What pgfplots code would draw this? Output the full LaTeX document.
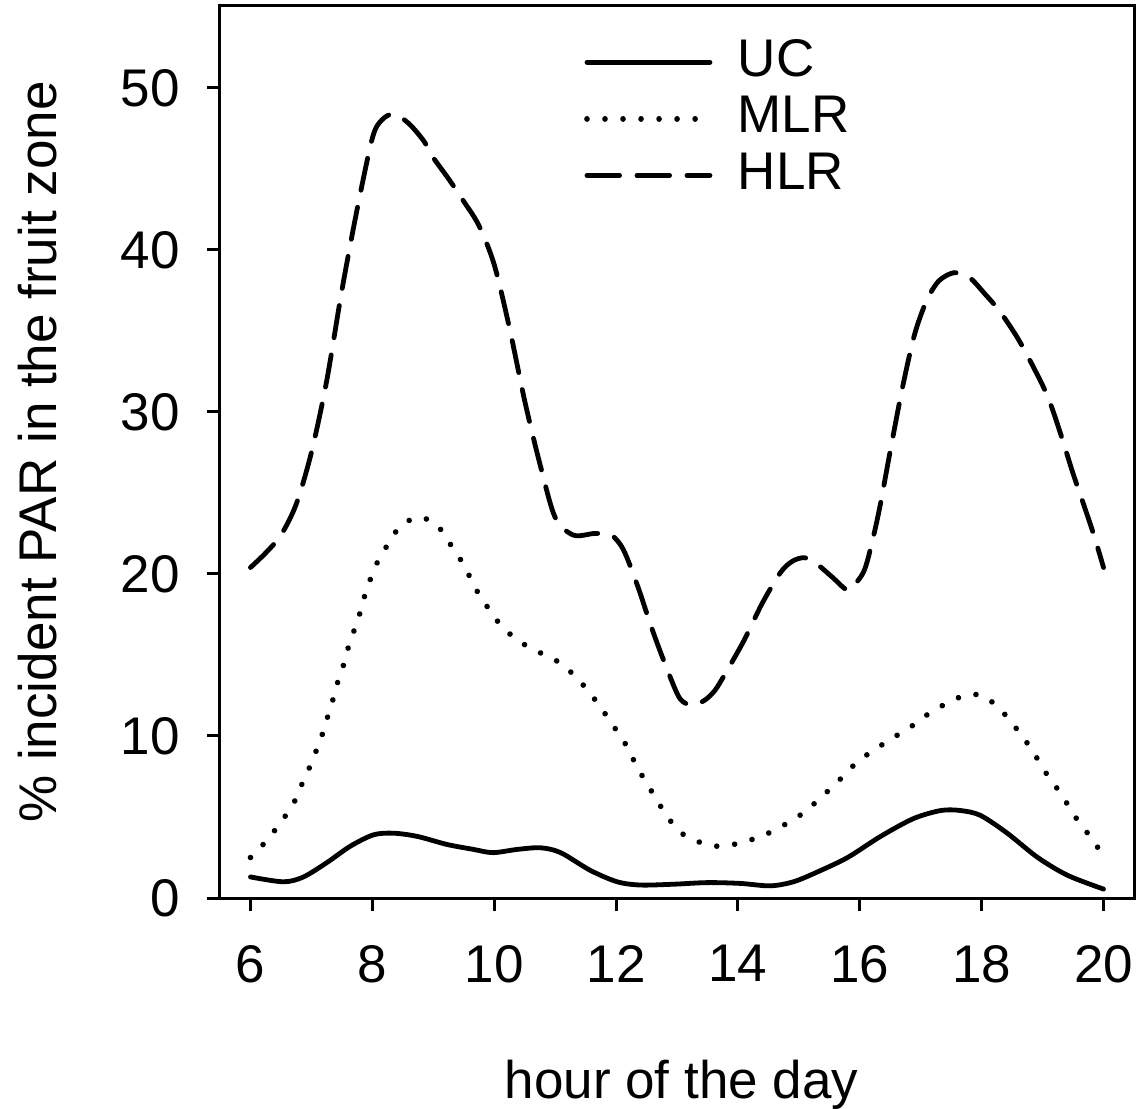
\documentclass[border=0pt]{standalone}
\usepackage{fontspec}
\setmainfont{Liberation Sans}
\usepackage{pgfplots}
\pgfplotsset{compat=1.18}
\newcommand{\bigf}{\fontsize{26.5}{32}\selectfont}
\begin{document}
\begin{tikzpicture}
\path[use as bounding box] (-110pt,-105.5pt) rectangle (458.5pt,449pt);
\begin{axis}[
  scale only axis,
  width=457pt, height=446pt,
  at={(0,0)}, anchor=south west,
  xmin=5.5, xmax=20.5, ymin=0, ymax=55.06,
  xtick={6,8,...,20}, ytick={0,10,...,50},
  xtick pos=bottom, ytick pos=left,
  tick align=outside, major tick length=6.5pt,
  axis line style={line width=1.5pt},
  every tick/.style={black, line width=1.5pt},
  /pgf/number format/assume math mode=true,
  tick label style={font=\bigf},
  xticklabel style={anchor=north, inner sep=0pt, yshift=-17pt},
  yticklabel style={anchor=east, inner sep=0pt, xshift=-13.5pt},
  xlabel={hour of the day},
  ylabel={\% incident PAR in the fruit zone},
  label style={font=\bigf},
  xlabel style={at={(axis description cs:0.505,-0.225)}, anchor=base, inner sep=0pt},
  ylabel style={at={(axis description cs:-0.2,0.5)}, anchor=center, rotate=0, inner sep=0pt},
  legend style={draw=none, fill=none, font=\bigf, inner sep=0pt,
    at={(axis cs:11.47,53.1)}, anchor=north west, row sep=9.3pt,
    nodes={inner sep=0pt, text height=19pt, text depth=0pt},
    /tikz/every odd column/.append style={column sep=12.5pt}},
  legend cell align=left,
  legend image code/.code={\draw[#1] (0pt,-2.5pt) -- (61.5pt,-2.5pt);},
]
\addplot[black, line width=2.4pt, line cap=round, smooth] coordinates {
(6.0,1.3) (6.54,1.0) (6.87,1.3) (7.26,2.2) (7.64,3.2) (8.02,3.9) (8.35,4.0)
(8.74,3.8) (9.23,3.3) (9.66,3.0) (9.98,2.8) (10.38,3.0) (10.76,3.1) (11.09,2.8)
(11.58,1.7) (12.02,1.0) (12.4,0.8) (12.94,0.85) (13.5,0.95) (14.04,0.9)
(14.53,0.75) (14.91,1.0) (15.3,1.6) (15.8,2.5) (16.34,3.8) (16.88,4.9)
(17.33,5.4) (17.65,5.4) (17.98,5.1) (18.42,4.0) (18.92,2.5) (19.41,1.4) (20.0,0.55)
};
\addlegendentry{UC}
\addplot[black, line width=2.8pt, line cap=round, dash pattern=on 0.01pt off 9pt, smooth] coordinates {
(6.0,2.5) (6.28,3.6) (6.5,4.7) (6.69,5.7) (6.83,6.9) (6.95,7.9) (7.07,9.0)
(7.17,10.0) (7.26,11.1) (7.35,12.2) (7.43,13.3) (7.52,14.3) (7.6,15.4)
(7.69,16.4) (7.79,17.5) (7.87,18.6) (7.97,19.7) (8.08,20.7) (8.25,21.8)
(8.45,22.9) (8.74,23.5) (9.04,23.1) (9.25,22.0) (9.43,21.0) (9.59,19.9)
(9.74,18.8) (9.92,17.8) (10.14,16.7) (10.43,15.8) (10.72,15.2) (11.0,14.7)
(11.3,13.8) (11.56,12.7) (11.76,11.7) (11.96,10.6) (12.14,9.6) (12.29,8.5)
(12.45,7.4) (12.63,6.3) (12.81,5.2) (13.04,4.1) (13.33,3.5) (13.63,3.2)
(13.92,3.3) (14.22,3.6) (14.5,4.0) (14.8,4.6) (15.09,5.3) (15.39,6.3)
(15.67,7.3) (15.96,8.4) (16.26,9.2) (16.55,9.9) (16.85,10.6) (17.14,11.4)
(17.42,12.0) (17.72,12.5) (18.01,12.5) (18.29,11.7) (18.54,10.6) (18.74,9.6)
(18.93,8.5) (19.11,7.4) (19.31,6.4) (19.5,5.2) (19.7,4.2) (19.91,3.1) (20.0,2.8)
};
\addlegendentry{MLR}
\addplot[black, line width=2.4pt, line cap=round, dash pattern=on 16.3pt off 8.7pt, smooth] coordinates {
(6.0,20.4) (6.25,21.3) (6.5,22.4) (6.75,24.3) (7.0,27.5) (7.25,31.9) (7.5,37.5)
(7.75,42.5) (8.0,46.9) (8.15,48.0) (8.35,48.4) (8.6,47.8) (8.85,46.7) (9.0,45.7)
(9.25,44.4) (9.5,43.0) (9.75,41.5) (10.0,39.1) (10.25,35.2) (10.5,30.7)
(10.75,26.8) (11.0,23.5) (11.3,22.4) (11.65,22.5) (11.92,22.4) (12.12,21.5)
(12.35,19.3) (12.6,16.5) (12.85,14.0) (13.05,12.3) (13.25,11.9) (13.45,12.2)
(13.62,12.8) (13.8,13.9) (14.1,15.9) (14.4,18.2) (14.7,20.1) (14.9,20.8)
(15.1,21.0) (15.3,20.6) (15.55,19.8) (15.8,19.0) (15.95,19.5) (16.1,20.5)
(16.3,23.6) (16.5,27.6) (16.7,31.5) (16.9,34.8) (17.1,36.9) (17.3,38.1)
(17.55,38.6) (17.8,38.3) (18.05,37.3) (18.3,36.2) (18.6,34.5) (18.9,32.4)
(19.1,30.8) (19.3,28.6) (19.5,26.2) (19.7,24.0) (19.85,22.3) (20.0,20.4)
};
\addlegendentry{HLR}
\end{axis}
\end{tikzpicture}
\end{document}
